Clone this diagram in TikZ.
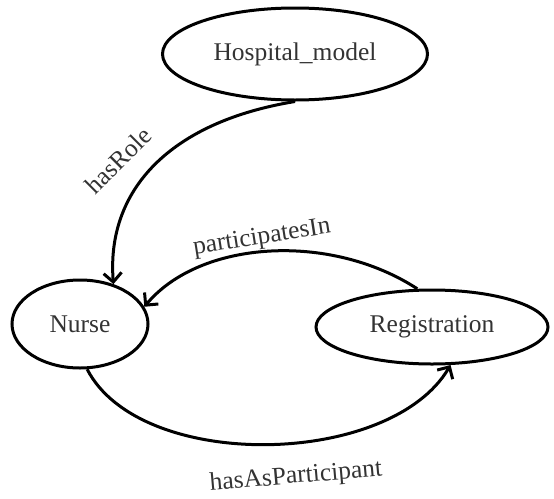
\documentclass[tikz,border=0pt]{standalone}
\usepackage{fontspec}
\setmainfont{Liberation Serif}
\newfontfamily\timesx{Liberation Serif}
\usetikzlibrary{shapes.geometric,arrows.meta}
\definecolor{txt}{HTML}{333333}
\tikzset{
  concept/.style={ellipse, draw=black, line width=3pt, inner sep=0pt, text=txt, font=\timesx\fontsize{25.5}{30}\selectfont},
  rel/.style={draw=black, line width=3pt, -{Straight Barb[length=9pt,width=18pt]}},
  lbl/.style={text=txt, font=\timesx\fontsize{25.5}{30}\selectfont, inner sep=0pt}
}
\begin{document}
\begin{tikzpicture}[x=1pt,y=-1pt]
\useasboundingbox (0,0) rectangle (554,498);
\node[concept, minimum width=265pt, minimum height=92pt] (hosp) at (295,54) {Hospital\_model};
\node[concept, minimum width=136pt, minimum height=88pt] (nurse) at (80,324) {Nurse};
\node[concept, minimum width=232pt, minimum height=74pt] (reg) at (432,327) {Registration};

\draw[rel] (hosp.south) .. controls (170,122) and (106,190) .. (nurse.50);
\draw[rel] (reg.111) .. controls (330,232) and (200,240) .. (nurse.15);
\draw[rel] (nurse.-81) .. controls (140,472) and (390,468) .. (reg.-64);

\node[lbl, rotate=45] (l1) at (118,160) {hasRole};
\node[lbl, rotate=9] (l2) at (262,238) {participatesIn};
\node[lbl, rotate=5] (l3) at (296,477) {hasAsParticipant};
\end{tikzpicture}
\end{document}
